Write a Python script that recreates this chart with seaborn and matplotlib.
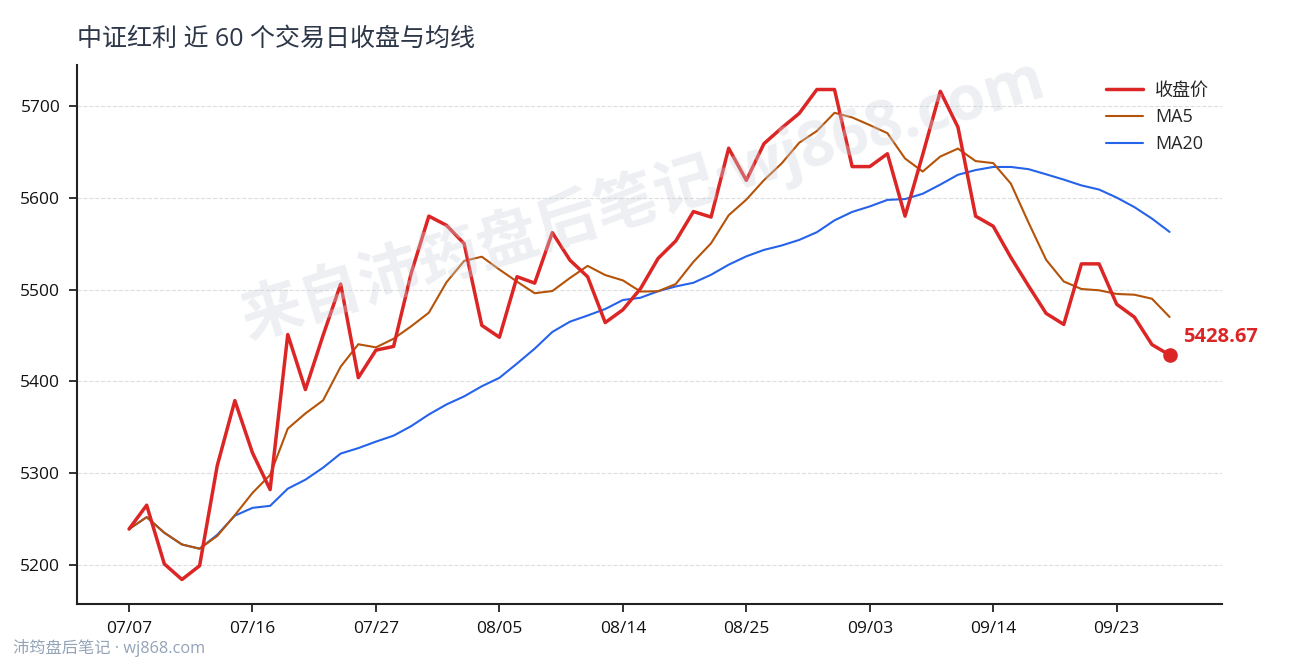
import numpy as np
import pandas as pd
import matplotlib
matplotlib.use('Agg')
import matplotlib.pyplot as plt
import seaborn as sns

# 近60个交易日收盘价
close = [5239, 5265, 5201, 5184, 5199, 5308, 5379, 5322, 5282, 5451,
         5391, 5450, 5506, 5404, 5434, 5438, 5518, 5580, 5570, 5550,
         5461, 5448, 5514, 5507, 5562, 5532, 5514, 5464, 5478, 5501,
         5534, 5553, 5585, 5579, 5654, 5619, 5659, 5676, 5692, 5718,
         5718, 5634, 5634, 5648, 5580, 5647, 5716, 5677, 5580, 5569,
         5535, 5504, 5474, 5462, 5528, 5528, 5484, 5470, 5440, 5428.67]

ma5 = [5239.0, 5252.0, 5235.0, 5222.2, 5217.6, 5231.4, 5254.2, 5278.4, 5298.0, 5348.4,
       5365.0, 5379.2, 5416.0, 5440.4, 5437.0, 5446.4, 5460.0, 5474.8, 5508.0, 5531.2,
       5535.8, 5521.8, 5508.6, 5496.0, 5498.4, 5512.6, 5525.8, 5515.8, 5510.0, 5497.8,
       5498.2, 5506.0, 5530.2, 5550.4, 5581.0, 5598.0, 5619.2, 5637.4, 5660.0, 5672.8,
       5692.6, 5687.6, 5679.2, 5670.4, 5642.8, 5628.6, 5645.0, 5653.6, 5640.0, 5637.8,
       5615.4, 5573.0, 5532.4, 5508.8, 5500.6, 5499.2, 5495.2, 5494.4, 5490.0, 5470.1]

ma20 = [5239.0, 5252.0, 5235.0, 5222.2, 5217.6, 5232.7, 5253.6, 5262.1, 5264.3, 5283.0,
        5292.8, 5305.9, 5321.3, 5327.2, 5334.3, 5340.8, 5351.2, 5363.9, 5374.8, 5383.6,
        5394.6, 5403.8, 5419.4, 5435.6, 5453.8, 5465.0, 5471.7, 5478.8, 5488.6, 5491.1,
        5498.2, 5503.4, 5507.4, 5516.1, 5527.1, 5536.2, 5543.2, 5548.0, 5554.1, 5562.5,
        5575.4, 5584.6, 5590.6, 5597.7, 5598.6, 5604.4, 5614.4, 5625.1, 5630.2, 5633.6,
        5633.6, 5631.2, 5625.6, 5619.8, 5613.5, 5609.0, 5600.2, 5589.9, 5577.3, 5562.8]

tick_idx = [0, 7, 14, 21, 28, 35, 42, 49, 56]
tick_labels = ['07/07', '07/16', '07/27', '08/05', '08/14', '08/25', '09/03', '09/14', '09/23']

df = pd.DataFrame({'idx': np.arange(len(close)), 'close': close, 'ma5': ma5, 'ma20': ma20})

sns.set_theme(style='white')
plt.rcParams['font.family'] = ['Open Sans', 'Noto Sans CJK SC', 'DejaVu Sans']
plt.rcParams['axes.unicode_minus'] = False

fig = plt.figure(figsize=(12.9, 6.6), dpi=100)
ax = fig.add_axes([0.0597, 0.0848, 0.8873, 0.8167])

sns.lineplot(data=df, x='idx', y='close', ax=ax, color='#dc2626', linewidth=2.5, label='收盘价', zorder=4)
sns.lineplot(data=df, x='idx', y='ma5', ax=ax, color='#b45309', linewidth=1.5, label='MA5', zorder=3)
sns.lineplot(data=df, x='idx', y='ma20', ax=ax, color='#2563eb', linewidth=1.5, label='MA20', zorder=2)

# 最新收盘点
last = len(close) - 1
ax.scatter([last], [close[-1]], s=90, color='#dc2626', zorder=5)
ax.annotate(f'{close[-1]:.2f}', xy=(last, close[-1]), xytext=(10, 13), textcoords='offset points',
            color='#dc2626', fontsize=14.5, fontweight='bold', va='center', ha='left')

ax.set_xticks(tick_idx)
ax.set_xticklabels(tick_labels)
ax.set_xlabel('')
ax.set_ylabel('')
ax.margins(x=0.05, y=0.05)
ax.set_yticks([5200, 5300, 5400, 5500, 5600, 5700])

ax.grid(axis='y', linestyle='--', color='#dddddd', linewidth=0.8)
ax.grid(axis='x', visible=False)
sns.despine(ax=ax)
for sp in ['left', 'bottom']:
    ax.spines[sp].set_color('#222222')
    ax.spines[sp].set_linewidth(1.5)
ax.tick_params(axis='both', which='major', length=6, width=1.3, color='#222222',
               labelsize=12.5, labelcolor='#111111', bottom=True, left=True, pad=6)

leg = ax.legend(loc='upper right', frameon=False, fontsize=13, handlelength=2.05,
                bbox_to_anchor=(1.003, 0.999), labelspacing=0.48, handletextpad=0.67)

ax.set_title('中证红利 近 60 个交易日收盘与均线', loc='left', fontsize=18, color='#2d3748', pad=14)

# 水印
fig.text(0.498, 0.698, '来自沛筠盘后笔记·wj868.com', fontsize=44.5, fontweight='bold', color='#cbd2dc',
         alpha=0.35, rotation=17, ha='center', va='center', zorder=0)
fig.text(0.01, 0.005, '沛筠盘后笔记 · wj868.com', fontsize=11.7, color='#94a3b8', ha='left', va='bottom')

fig.savefig('out.png', dpi=100)
